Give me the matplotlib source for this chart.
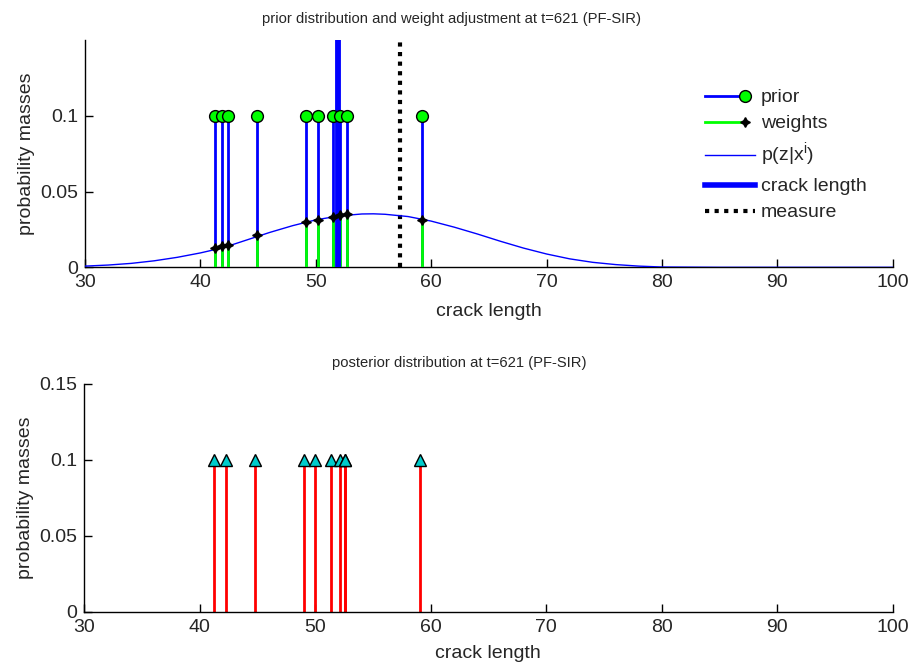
import matplotlib
matplotlib.use("Agg")
import matplotlib.pyplot as plt
from matplotlib.lines import Line2D
from matplotlib.legend_handler import HandlerLine2DCompound

plt.rcParams['font.family'] = ['Liberation Sans', 'DejaVu Sans']

# ---- data ----
prior_x = [41.30, 41.86, 42.41, 44.90, 49.13, 50.15, 51.45, 52.10, 52.73, 59.22]
prior_p = [0.1, 0.1, 0.1, 0.1, 0.1, 0.1, 0.1, 0.1, 0.1, 0.1]
weights = [0.0125, 0.0140, 0.0149, 0.0210, 0.0298, 0.0311, 0.0333, 0.0342, 0.0349, 0.0311]

lik_x = [30, 32, 34, 36, 38, 40, 42, 44, 46, 48, 50, 52, 54, 55, 56, 58, 60, 62, 64, 66,
         68, 70, 72, 74, 76, 78, 80, 85, 90, 96.7, 100]
lik_y = [0.0008, 0.0015, 0.0026, 0.0043, 0.0066, 0.0095, 0.0130, 0.0180, 0.0230, 0.0275,
         0.0313, 0.0339, 0.0352, 0.0353, 0.0350, 0.0335, 0.0305, 0.0265, 0.0220, 0.0172,
         0.0127, 0.0088, 0.0056, 0.0033, 0.0018, 0.0008, 0.0002, 0.0, 0.0, 0.0, 0.0]

crack_length = 51.95
measure = 57.3

post_x = [41.22, 42.32, 44.78, 49.04, 50.03, 51.39, 52.17, 52.60, 52.60, 59.10]
post_p = [0.1, 0.1, 0.1, 0.1, 0.1, 0.1, 0.1, 0.1, 0.1, 0.1]

xticks = [30, 40, 50, 60, 70, 80, 90, 100]
yticks_top = [0, 0.05, 0.1]
yticks_bot = [0, 0.05, 0.1, 0.15]

title_top = "prior distribution and weight adjustment at t=621 (PF-SIR)"
title_bot = "posterior distribution at t=621 (PF-SIR)"
legend_labels = ['prior', 'weights', r'p(z|x$^\mathregular{i}$)', 'crack length', 'measure']

fig = plt.figure(figsize=(9.1, 6.64), dpi=100)
ax1 = fig.add_axes([0.0934, 0.5974, 0.8876, 0.3424])
ax2 = fig.add_axes([0.0923, 0.0788, 0.8887, 0.343])

FS_TICK = 14
FS_LAB = 14
FS_TITLE = 10.6
TXT = '#262626'

# ---- top axes ----
ax1.vlines(prior_x, 0, prior_p, color='#0000ff', lw=2, zorder=2)
ax1.plot(prior_x, prior_p, 'o', ms=8.5, mfc='#00ff00', mec='black', mew=1, zorder=5)
ax1.vlines(prior_x, 0, weights, color='#00ff00', lw=2, zorder=3)
ax1.plot(lik_x, lik_y, color='#0000ff', lw=1, zorder=4)
ax1.plot(prior_x, weights, marker=(4, 1, 0), ls='none', ms=7, color='black', zorder=6)
ax1.axvline(crack_length, ymin=0, ymax=1, color='#0000ff', lw=4.2, zorder=3)
ax1.axvline(measure, ymin=0, ymax=1, color='black', lw=3, ls=(0, (1, 1.3)), zorder=3)

for ax, yt, ttl, tx, ly in [(ax1, yticks_top, title_top, 0.454, -0.158),
                            (ax2, yticks_bot, title_bot, 0.464, -0.147)]:
    ax.set_xlim(30, 100)
    ax.set_ylim(0, 0.15)
    ax.set_xticks(xticks)
    ax.set_yticks(yt)
    ax.set_xticklabels([str(v) for v in xticks])
    ax.set_yticklabels(['0' if v == 0 else ('%g' % v) for v in yt])
    ax.tick_params(direction='in', length=6, width=1, labelsize=FS_TICK, colors='black',
                   labelcolor=TXT)
    ax.tick_params(axis='x', pad=5)
    ax.tick_params(axis='y', pad=5)
    for s in ['top', 'right']:
        ax.spines[s].set_visible(False)
    ax.spines['left'].set_linewidth(1)
    ax.spines['bottom'].set_linewidth(1)
    ax.set_xlabel('crack length', fontsize=FS_LAB, color=TXT)
    ax.set_ylabel('probability masses', fontsize=FS_LAB, color=TXT)
    ax.xaxis.set_label_coords(0.5, ly)
    ax.yaxis.set_label_coords(-0.062, 0.5)
    ax.set_title(ttl, fontsize=FS_TITLE, pad=12.5, x=tx, color=TXT)


class EndMarkerHandler(HandlerLine2DCompound):
    def get_xdata(self, legend, xdescent, ydescent, width, height, fontsize):
        xdata = [-xdescent, -xdescent + 0.8 * width]
        return xdata, [-xdescent + 0.8 * width]


h_prior = Line2D([], [], color='#0000ff', lw=2, marker='o', ms=8.5, mfc='#00ff00', mec='black')
h_weights = Line2D([], [], color='#00ff00', lw=2, marker=(4, 1, 0), ms=7, mfc='black', mec='black')
handles = [
    h_prior,
    h_weights,
    Line2D([], [], color='#0000ff', lw=1),
    Line2D([], [], color='#0000ff', lw=4),
    Line2D([], [], color='black', lw=3, ls=(0, (1, 1.3))),
]
leg = ax1.legend(handles, legend_labels, loc='upper left', bbox_to_anchor=(0.767, 0.785),
                 frameon=False, fontsize=14, handlelength=2.6, handletextpad=0.3,
                 labelspacing=0.43, borderaxespad=0, borderpad=0,
                 handler_map={h_prior: EndMarkerHandler(), h_weights: EndMarkerHandler()})
for t in leg.get_texts():
    t.set_color(TXT)

# ---- bottom axes ----
ax2.vlines(post_x, 0, post_p, color='#ff0000', lw=2, zorder=2)
ax2.plot(post_x, post_p, '^', ms=8.5, mfc='#00cccc', mec='black', mew=1, zorder=5)

fig.savefig('out.png', dpi=100)
